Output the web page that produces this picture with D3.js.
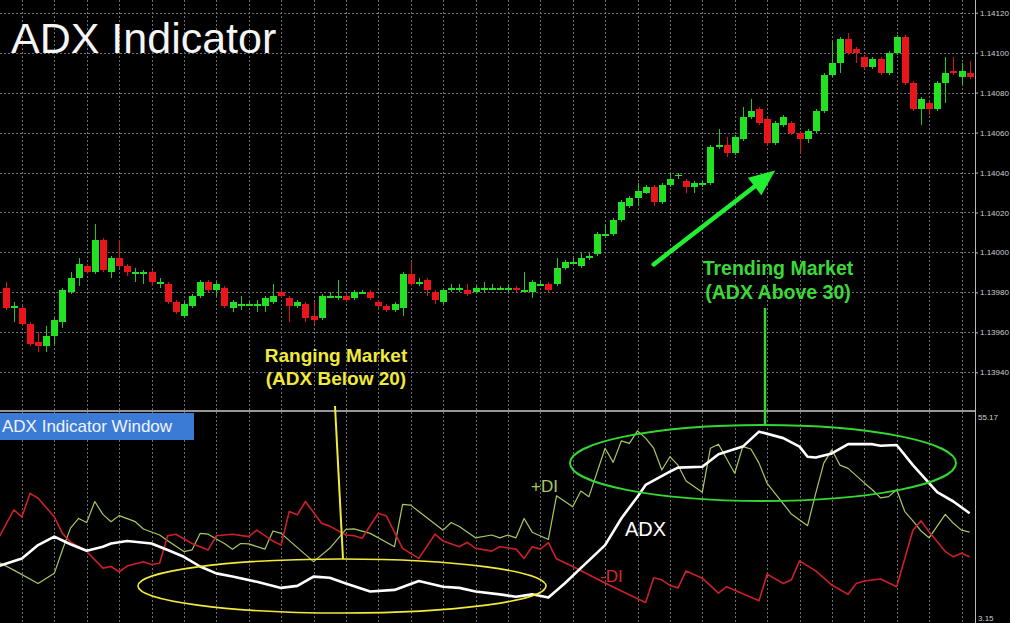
<!DOCTYPE html>
<html><head><meta charset="utf-8">
<script src="https://cdn.jsdelivr.net/npm/d3@7"></script>
<style>html,body{margin:0;padding:0;background:#000;overflow:hidden}</style>
</head><body>
<svg id="c" width="1010" height="623"></svg>
<script>
// ---------- DATA ----------
const priceTicks = [1.13940,1.13960,1.13980,1.14000,1.14020,1.14040,1.14060,1.14080,1.14100,1.14120];
const indicatorTicks = [55.17, 3.15];

const open = [1.13982,1.13972,1.13972,1.13964,1.13955,1.13953,1.13958,1.13965,1.13980,1.13987,
1.13993,1.13990,1.14006,1.13990,1.13997,1.13993,1.13990,1.13990,1.13990,1.13984,
1.13984,1.13975,1.13968,1.13973,1.13978,1.13985,1.13981,1.13982,1.13972,1.13974,
1.13974,1.13974,1.13973,1.13975,1.13980,1.13977,1.13973,1.13974,1.13968,1.13967,
1.13978,1.13978,1.13978,1.13977,1.13980,1.13980,1.13975,1.13973,1.13971,1.13972,
1.13989,1.13985,1.13986,1.13980,1.13975,1.13982,1.13982,1.13981,1.13980,1.13982,
1.13982,1.13982,1.13982,1.13982,1.13981,1.13980,1.13984,1.13984,1.13984,1.13992,
1.13995,1.13993,1.13997,1.13999,1.14008,1.14009,1.14016,1.14023,1.14027,1.14030,
1.14033,1.14025,1.14034,1.14039,1.14036,1.14033,1.14034,1.14035,1.14053,1.14054,
1.14050,1.14057,1.14068,1.14072,1.14067,1.14055,1.14064,1.14065,1.14060,1.14057,
1.14061,1.14071,1.14089,1.14095,1.14107,1.14102,1.14098,1.14093,1.14097,1.14090,
1.14100,1.14108,1.14085,1.14072,1.14075,1.14072,1.14085,1.14091,1.14088,1.14090];
const high = [1.13985,1.13975,1.13973,1.13965,1.13960,1.13963,1.13967,1.13982,1.13990,1.13997,
1.13994,1.14014,1.14007,1.13998,1.14006,1.13994,1.13992,1.13991,1.13991,1.13987,
1.13985,1.13976,1.13975,1.13979,1.13986,1.13986,1.13985,1.13983,1.13976,1.13978,
1.13975,1.13976,1.13978,1.13984,1.13981,1.13978,1.13976,1.13975,1.13975,1.13979,
1.13980,1.13986,1.13979,1.13981,1.13981,1.13981,1.13976,1.13974,1.13975,1.13990,
1.13995,1.13987,1.13987,1.13981,1.13982,1.13984,1.13984,1.13984,1.13983,1.13985,
1.13984,1.13983,1.13984,1.13983,1.13990,1.13986,1.13986,1.13985,1.13997,1.13996,
1.13997,1.14000,1.14000,1.14010,1.14014,1.14017,1.14026,1.14028,1.14035,1.14034,
1.14034,1.14035,1.14040,1.14040,1.14037,1.14036,1.14036,1.14054,1.14062,1.14058,
1.14059,1.14073,1.14077,1.14073,1.14068,1.14066,1.14069,1.14066,1.14061,1.14062,
1.14072,1.14090,1.14106,1.14108,1.14110,1.14103,1.14099,1.14098,1.14098,1.14101,
1.14109,1.14109,1.14086,1.14078,1.14076,1.14086,1.14098,1.14098,1.14095,1.14096];
const low = [1.13971,1.13965,1.13963,1.13953,1.13950,1.13950,1.13954,1.13962,1.13979,1.13983,
1.13989,1.13989,1.13990,1.13987,1.13992,1.13988,1.13985,1.13984,1.13983,1.13982,
1.13974,1.13969,1.13967,1.13972,1.13977,1.13980,1.13978,1.13972,1.13970,1.13971,
1.13973,1.13970,1.13970,1.13974,1.13977,1.13965,1.13972,1.13965,1.13964,1.13966,
1.13977,1.13976,1.13975,1.13976,1.13979,1.13976,1.13972,1.13970,1.13970,1.13968,
1.13983,1.13983,1.13978,1.13974,1.13974,1.13980,1.13980,1.13978,1.13979,1.13980,
1.13981,1.13981,1.13980,1.13980,1.13980,1.13977,1.13983,1.13980,1.13983,1.13991,
1.13994,1.13992,1.13996,1.13998,1.14007,1.14008,1.14015,1.14022,1.14023,1.14029,
1.14023,1.14024,1.14033,1.14037,1.14030,1.14030,1.14033,1.14034,1.14052,1.14048,
1.14049,1.14056,1.14067,1.14064,1.14054,1.14054,1.14063,1.14059,1.14050,1.14055,
1.14060,1.14070,1.14088,1.14090,1.14099,1.14095,1.14092,1.14092,1.14089,1.14089,
1.14099,1.14084,1.14071,1.14064,1.14069,1.14071,1.14075,1.14089,1.14084,1.14087];
const close = [1.13972,1.13973,1.13964,1.13954,1.13953,1.13958,1.13966,1.13981,1.13987,1.13994,
1.13990,1.14006,1.13991,1.13997,1.13993,1.13990,1.13990,1.13990,1.13985,1.13985,
1.13975,1.13970,1.13974,1.13978,1.13985,1.13981,1.13984,1.13973,1.13975,1.13974,
1.13974,1.13974,1.13977,1.13978,1.13978,1.13973,1.13975,1.13967,1.13966,1.13978,
1.13978,1.13978,1.13976,1.13980,1.13980,1.13977,1.13973,1.13971,1.13974,1.13989,
1.13984,1.13985,1.13981,1.13976,1.13981,1.13982,1.13982,1.13979,1.13982,1.13982,
1.13982,1.13982,1.13982,1.13981,1.13981,1.13985,1.13984,1.13981,1.13992,1.13995,
1.13995,1.13997,1.13998,1.14009,1.14009,1.14016,1.14025,1.14027,1.14031,1.14033,
1.14025,1.14034,1.14037,1.14039,1.14033,1.14035,1.14035,1.14053,1.14054,1.14050,
1.14058,1.14068,1.14071,1.14065,1.14055,1.14065,1.14068,1.14060,1.14057,1.14061,
1.14071,1.14089,1.14095,1.14107,1.14100,1.14100,1.14093,1.14097,1.14090,1.14100,
1.14108,1.14085,1.14072,1.14077,1.14072,1.14085,1.14090,1.14090,1.14091,1.14088];

// indicator window: bar index of each vertex and value
const adxBars = [-1,2,4,6,8,10,12,13,15,18,20,22,24,26,28,31,34,36,38,40,42,45,48,51,54,56,58,61,63,65,67,69,71,74,76,78,79,82,83,86,88,91,93,96,98,99,100,102,104,107,108,110,112,115,117,119];
const adxVals = [16.9,18.9,22.2,24.3,22.4,20.8,21.8,22.6,23.2,22.6,21.0,19.3,16.9,15.2,14.4,13.1,11.6,12.1,14.4,14.1,12.7,10.7,11.1,13.3,11.9,11.6,10.7,10.0,9.4,10.0,9.2,12.7,16.5,22.2,28.8,34.2,37.1,40.4,41.4,41.6,44.7,46.6,50.3,48.7,46.6,44.1,43.9,44.9,47.2,47.2,46.8,47.0,42.0,35.3,33.0,30.1];

const plusDIBars = [-1,1,4,6,7,8,9,10,11,12,13,14,16,17,19,20,22,23,24,25,26,27,28,29,30,32,33,34,38,40,42,43,45,48,49,50,51,54,55,56,58,60,61,62,63,64,65,67,68,70,71,72,74,75,76,77,78,79,80,81,82,83,84,86,87,88,90,91,92,93,94,97,99,100,101,102,103,104,106,107,108,109,110,111,112,113,114,116,117,118,119];
const plusDIVals = [18.1,16.0,12.7,15.2,21.0,26.4,28.8,27.8,33.0,29.8,28.0,29.5,28.0,26.2,24.7,23.3,20.6,21.0,25.1,24.9,23.7,22.6,21.2,22.6,22.5,21.2,25.7,25.1,18.1,21.4,26.1,26.2,25.1,21.8,32.3,32.1,30.5,25.9,27.8,26.8,24.0,24.7,24.0,24.7,24.0,28.8,25.4,23.6,34.4,31.7,35.6,34.2,46.2,42.7,48.0,47.4,50.5,48.7,46.2,40.8,44.1,42.0,38.1,35.3,46.2,47.2,40.0,46.6,46.0,42.5,37.5,29.9,27.0,35.0,42.5,45.8,42.0,41.2,37.6,35.9,33.9,34.2,35.9,30.5,28.2,25.7,24.0,29.8,27.6,25.9,25.4];

const minusDIBars = [-1,1,2,3,4,6,7,8,10,12,13,14,15,17,18,19,20,21,23,25,26,28,30,31,33,34,35,36,37,39,40,42,43,44,46,47,49,51,53,54,56,57,58,60,61,63,64,65,66,67,68,70,74,78,79,80,81,82,83,84,86,88,89,93,94,96,97,98,100,102,104,105,106,108,110,112,113,114,116,117,118,119];
const minusDIVals = [23.5,30.9,29.2,35.0,33.8,29.2,25.1,23.0,20.6,16.5,16.9,15.6,17.0,18.1,17.4,17.7,24.5,24.9,22.6,21.0,24.5,24.9,24.3,25.9,23.2,22.2,30.5,29.7,33.0,27.6,26.9,24.7,24.5,23.9,30.1,29.4,21.4,18.9,24.9,23.2,21.8,22.9,21.4,20.7,21.8,21.2,18.9,21.8,21.2,22.8,18.8,16.9,12.8,8.9,8.0,14.1,13.6,12.2,11.6,15.8,14.0,10.3,11.9,8.4,15.0,12.7,13.6,18.3,15.8,12.3,10.0,12.7,13.3,13.8,11.9,25.9,28.2,25.5,20.6,19.3,20.2,19.3];

// ---------- LAYOUT ----------
const W = 1010, H = 623, axisX = 975, sepY = 411;
const svg = d3.select("#c");
const x = d3.scaleLinear().domain([0, 119]).range([5.7, 969.6]);
const yP = d3.scaleLinear().domain([1.13940, 1.14120]).range([372.3, 12.7]);
const yI = d3.scaleLinear().domain([3.15, 55.17]).range([622, 412]);
const FONT = "'Liberation Sans', Arial, sans-serif";

svg.append("rect").attr("width", W).attr("height", H).attr("fill", "#000");

// grid
const grid = svg.append("g").attr("stroke", "#6e6e6e").attr("stroke-width", 1)
  .attr("stroke-dasharray", "2,2").attr("shape-rendering", "crispEdges");
grid.selectAll("line.h").data(priceTicks).join("line").attr("class", "h")
  .attr("x1", 0).attr("x2", axisX).attr("y1", d => Math.round(yP(d)) + 0.5).attr("y2", d => Math.round(yP(d)) + 0.5);
grid.selectAll("line.v").data(d3.range(2, 120, 4)).join("line").attr("class", "v")
  .attr("x1", d => Math.round(x(d)) + 0.5).attr("x2", d => Math.round(x(d)) + 0.5).attr("y1", 0).attr("y2", H);

// candles
const bars = d3.range(open.length).map(i => ({i, o: open[i], h: high[i], l: low[i], c: close[i]}));
const upCol = "#22e022", dnCol = "#e8161b";
const cg = svg.append("g").attr("shape-rendering", "crispEdges");
cg.selectAll("line.wick").data(bars).join("line").attr("class", "wick")
  .attr("x1", d => Math.round(x(d.i)) + 0.5).attr("x2", d => Math.round(x(d.i)) + 0.5)
  .attr("y1", d => yP(d.h)).attr("y2", d => yP(d.l))
  .attr("stroke", d => d.c >= d.o ? "#27c427" : "#d81418").attr("stroke-width", 1);
cg.selectAll("rect.body").data(bars).join("rect").attr("class", "body")
  .attr("x", d => Math.round(x(d.i)) - 3).attr("width", 7)
  .attr("y", d => yP(Math.max(d.o, d.c)))
  .attr("height", d => Math.max(1.2, Math.abs(yP(d.o) - yP(d.c))))
  .attr("fill", d => d.c >= d.o ? upCol : dnCol);

// separator + axis line
svg.append("line").attr("x1", 0).attr("x2", axisX).attr("y1", sepY).attr("y2", sepY)
  .attr("stroke", "#c8c8c8").attr("stroke-width", 1.5);
svg.append("line").attr("x1", axisX + 0.5).attr("x2", axisX + 0.5).attr("y1", 0).attr("y2", H)
  .attr("stroke", "#b8b8b8").attr("stroke-width", 1);

// price axis
const ga = svg.append("g").attr("transform", `translate(${axisX},0)`)
  .call(d3.axisRight(yP).tickValues(priceTicks).tickFormat(d3.format(".5f")).tickSize(3).tickPadding(2));
ga.select(".domain").remove();
ga.selectAll("line").attr("stroke", "#bbb");
ga.selectAll("text").attr("fill", "#cfcfcf").style("font-family", FONT).style("font-size", "8px");

// indicator axis labels
svg.selectAll("text.ind").data(indicatorTicks).join("text").attr("class", "ind")
  .attr("x", axisX + 3).attr("y", d => d === 55.17 ? yI(d) + 8 : yI(d) - 1)
  .attr("fill", "#cfcfcf").style("font-family", FONT).style("font-size", "8px")
  .text(d => d3.format(".2f")(d));

// indicator lines
svg.append("clipPath").attr("id", "ic").append("rect").attr("x", 0).attr("y", sepY + 1).attr("width", axisX).attr("height", H - sepY);
const line = d3.line().x(d => x(d[0])).y(d => yI(d[1]));
const ig = svg.append("g").attr("clip-path", "url(#ic)").attr("fill", "none").attr("stroke-linejoin", "round");
ig.append("path").datum(d3.zip(plusDIBars, plusDIVals)).attr("d", line).attr("stroke", "#a9c862").attr("stroke-width", 1.2);
ig.append("path").datum(d3.zip(minusDIBars, minusDIVals)).attr("d", line).attr("stroke", "#cc2029").attr("stroke-width", 1.6);
ig.append("path").datum(d3.zip(adxBars, adxVals)).attr("d", line).attr("stroke", "#ffffff").attr("stroke-width", 2.6);

// ---------- ANNOTATIONS ----------
svg.append("text").attr("x", 11).attr("y", 53).attr("fill", "#f5f5f5")
  .style("font-family", FONT).style("font-size", "43px").text("ADX Indicator");

// indicator window label
svg.append("rect").attr("x", 0).attr("y", 413).attr("width", 194).attr("height", 27).attr("fill", "#3b7bd6");
svg.append("text").attr("x", 2).attr("y", 432).attr("fill", "#f0f4ff")
  .style("font-family", FONT).style("font-size", "17px").text("ADX Indicator Window");

// ranging market
const yel = "#f0ea3a";
svg.append("ellipse").attr("cx", 342).attr("cy", 586).attr("rx", 204).attr("ry", 27)
  .attr("fill", "none").attr("stroke", yel).attr("stroke-width", 1.6);
svg.append("line").attr("x1", 335).attr("y1", 406).attr("x2", 343).attr("y2", 559)
  .attr("stroke", yel).attr("stroke-width", 2);
const rt = svg.append("text").attr("fill", yel).attr("text-anchor", "middle")
  .style("font-family", FONT).style("font-size", "19px").style("font-weight", "bold");
rt.append("tspan").attr("x", 336).attr("y", 362).text("Ranging Market");
rt.append("tspan").attr("x", 336).attr("y", 385).text("(ADX Below 20)");

// trending market
const grn = "#33d633";
svg.append("ellipse").attr("cx", 763).attr("cy", 463).attr("rx", 193).attr("ry", 38)
  .attr("fill", "none").attr("stroke", grn).attr("stroke-width", 2);
svg.append("line").attr("x1", 765).attr("y1", 308).attr("x2", 765).attr("y2", 426)
  .attr("stroke", grn).attr("stroke-width", 2.5);
const tt = svg.append("text").attr("fill", "#3ad838").attr("text-anchor", "middle")
  .style("font-family", FONT).style("font-size", "19.5px").style("font-weight", "bold");
tt.append("tspan").attr("x", 778).attr("y", 275).text("Trending Market");
tt.append("tspan").attr("x", 778).attr("y", 299).text("(ADX Above 30)");

// arrow (bar index / price space)
const tail = [x(80), yP(1.13994)], tip = [x(95), yP(1.14041)];
const dx = tip[0] - tail[0], dy = tip[1] - tail[1], len = Math.hypot(dx, dy);
const ux = dx / len, uy = dy / len, nx = -uy, ny = ux, hl = 26, hw = 11;
const base = [tip[0] - ux * hl, tip[1] - uy * hl];
svg.append("line").attr("x1", tail[0]).attr("y1", tail[1]).attr("x2", base[0] + ux * 2).attr("y2", base[1] + uy * 2)
  .attr("stroke", "#22ee33").attr("stroke-width", 4.5).attr("stroke-linecap", "round");
svg.append("path").attr("d", `M${tip[0]},${tip[1]}L${base[0] + nx * hw},${base[1] + ny * hw}L${base[0] - nx * hw},${base[1] - ny * hw}Z`)
  .attr("fill", "#22ee33");

// line labels
svg.append("text").attr("x", 531).attr("y", 492).attr("fill", "#a9c862")
  .style("font-family", FONT).style("font-size", "17px").text("+DI");
svg.append("text").attr("x", 625).attr("y", 536).attr("fill", "#ffffff")
  .style("font-family", FONT).style("font-size", "20px").text("ADX");
svg.append("text").attr("x", 600).attr("y", 582).attr("fill", "#d42a2a")
  .style("font-family", FONT).style("font-size", "17px").text("-DI");
</script>
</body></html>
